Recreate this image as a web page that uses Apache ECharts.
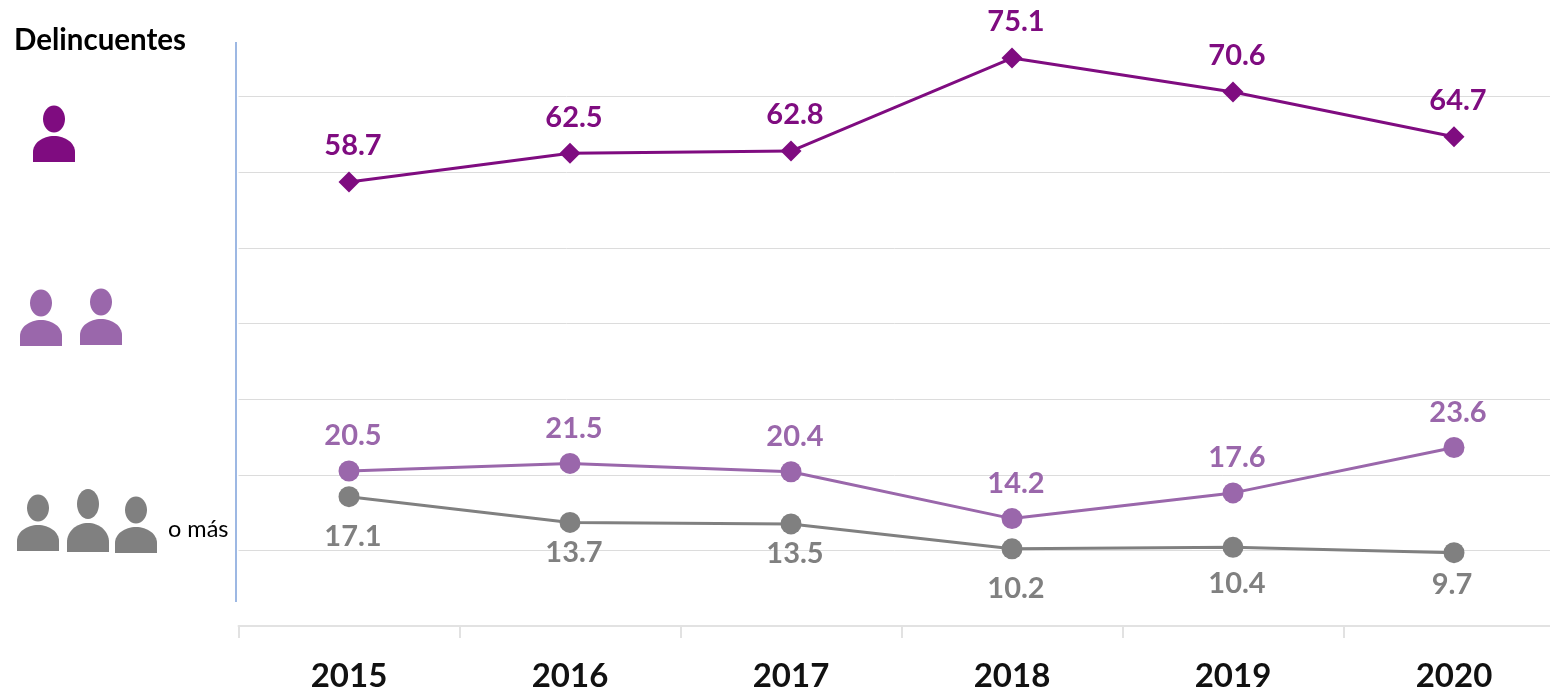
<!DOCTYPE html>
<html>
<head>
<meta charset="utf-8">
<title>Delincuentes</title>
<script src="https://cdn.jsdelivr.net/npm/echarts@6/dist/echarts.min.js"></script>
<style>
	html, body { margin: 0; padding: 0; background: #fff; }
	#chart { width: 1550px; height: 693px; }
</style>
</head>
<body>
<div id="chart"></div>
<script>
	var years = ['2015', '2016', '2017', '2018', '2019', '2020']
	var oneOffender = [58.7, 62.5, 62.8, 75.1, 70.6, 64.7]
	var twoOffenders = [20.5, 21.5, 20.4, 14.2, 17.6, 23.6]
	var threeOrMore = [17.1, 13.7, 13.5, 10.2, 10.4, 9.7]

	var DARK = '#7f0c80'
	var LIGHT = '#9a67ab'
	var GRAY = '#808080'
	var FONT = 'Lato, "Open Sans", sans-serif'

	// hand placed gray labels, the original does not keep them at a fixed distance
	var grayNudge = [[4, 5], [4, -5], [4, -5], [4, 5], [4, 1], [-2, -3]]

	// one person icon, bottom is the base of the shoulders
	function person(cx, bottom, color, tall) {
		var dome = tall ? 19 : 16
		var body = [[cx - 21, bottom]]
		for (var a = 0; a <= 32; a++) {
			var t = Math.PI * a / 32
			body.push([cx - 21 * Math.cos(t), bottom - 10 - dome * Math.sin(t)])
		}
		body.push([cx + 21, bottom])
		return [{
			type: 'ellipse',
			shape: { cx: cx, cy: bottom - (tall ? 48 : 43), rx: 11, ry: tall ? 15 : 13.5 },
			style: { fill: color }
		}, {
			type: 'polygon',
			shape: { points: body },
			style: { fill: color }
		}]
	}

	function lineSeries(name, values, color, symbol, position, distance, nudge) {
		return {
			name: name,
			type: 'line',
			data: values.map(function (v, i) {
				return nudge ? { value: v, label: { offset: nudge[i] } } : v
			}),
			symbol: symbol,
			symbolSize: 21,
			lineStyle: { color: color, width: 3 },
			itemStyle: { color: color },
			label: {
				show: true,
				position: position,
				distance: distance,
				offset: [4, 0],
				color: color,
				fontFamily: FONT,
				fontWeight: 'bold',
				fontSize: 29,
				formatter: function (p) { return p.value.toFixed(1) }
			},
			animation: false
		}
	}

	var icons = [].concat(
		person(54, 162, DARK),
		person(41, 346, LIGHT),
		person(101, 345, LIGHT),
		person(38, 551, GRAY),
		person(88, 552, GRAY, true),
		person(136, 553, GRAY)
	)

	var option = {
		backgroundColor: '#fff',
		animation: false,
		// the last band runs past the right edge, as in the original
		grid: { left: 238.5, top: 21, width: 1326, height: 605, outerBoundsMode: 'none' },
		xAxis: {
			type: 'category',
			data: years,
			boundaryGap: true,
			axisLine: { show: true, lineStyle: { color: '#e2e2e2', width: 2 } },
			axisTick: { show: true, length: 12, lineStyle: { color: '#e2e2e2', width: 2 } },
			axisLabel: {
				color: '#111',
				fontFamily: FONT,
				fontWeight: 'bold',
				fontSize: 33,
				margin: 34
			}
		},
		yAxis: {
			type: 'value',
			min: 0,
			max: 80,
			interval: 10,
			axisLine: { show: false },
			axisTick: { show: false },
			axisLabel: { show: false },
			splitLine: { show: true, showMaxLine: false, lineStyle: { color: '#dcdcdc', width: 1 } }
		},
		series: [
			lineSeries('1 delincuente', oneOffender, DARK, 'diamond', 'top', 11),
			lineSeries('2 delincuentes', twoOffenders, LIGHT, 'circle', 'top', 10),
			lineSeries('3 delincuentes o más', threeOrMore, GRAY, 'circle', 'bottom', 10, grayNudge)
		],
		graphic: [{
			type: 'text',
			left: 14,
			top: 25,
			style: { text: 'Delincuentes', fill: '#000', font: 'bold 29.5px ' + FONT }
		}, {
			type: 'text',
			left: 168,
			top: 517,
			style: { text: 'o más', fill: '#000', font: '23.5px ' + FONT }
		}, {
			type: 'line',
			shape: { x1: 236, y1: 42, x2: 236, y2: 602 },
			style: { stroke: '#9db8e3', lineWidth: 2 }
		}].concat(icons)
	}

	var dom = echarts.init(document.getElementById('chart'))
	dom.setOption(option)
</script>
</body>
</html>
